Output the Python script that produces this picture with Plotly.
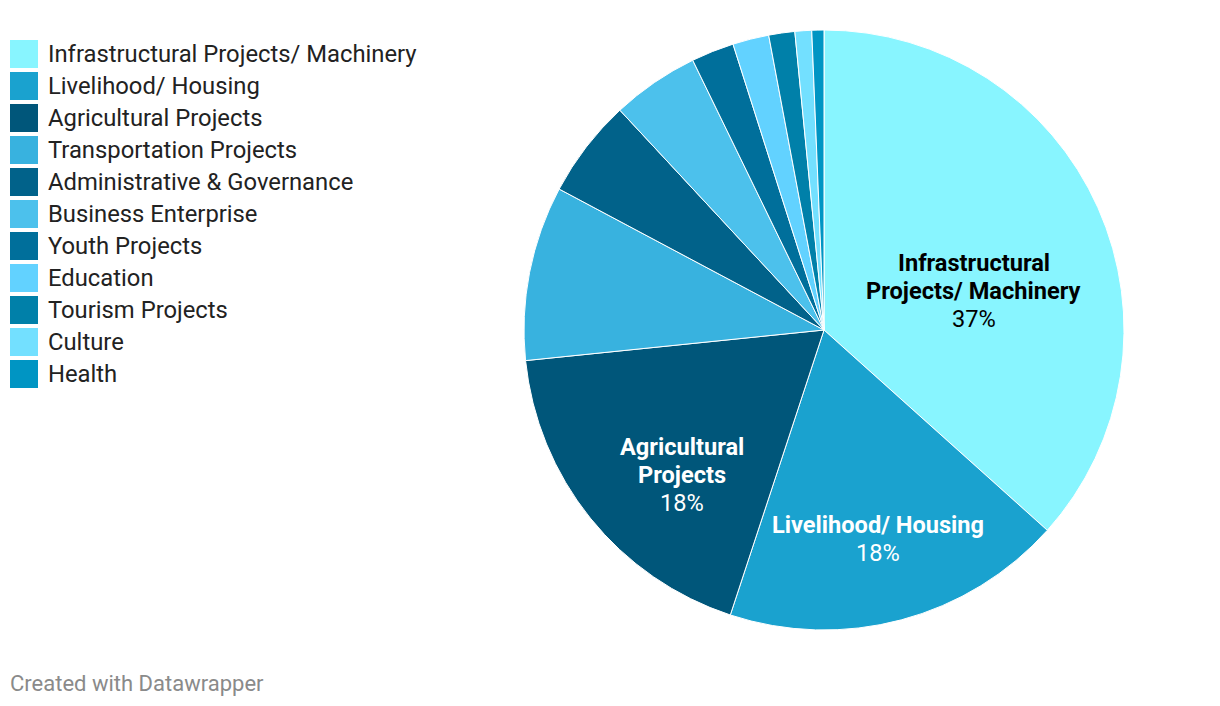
import math
import plotly.graph_objects as go

# page body has an 8px margin, so the figure is drawn 8px in from the window edge
OFF = 8
W, H = 1220 - 2 * OFF, 706 - 2 * OFF

categories = [
    "Infrastructural Projects/ Machinery", "Livelihood/ Housing", "Agricultural Projects",
    "Transportation Projects", "Administrative & Governance", "Business Enterprise",
    "Youth Projects", "Education", "Tourism Projects", "Culture", "Health",
]
shares = [36.6, 18.4, 18.3, 9.4, 5.3, 4.7, 2.3, 1.95, 1.4, 0.9, 0.65]
colors = [
    "#88f5ff", "#1aa2cf", "#00567a", "#38b2df", "#01628a", "#4cc1ec",
    "#006f9b", "#62d2ff", "#0080a9", "#73e0ff", "#0095c3",
]
# wrapped captions shown inside the three largest slices
slice_captions = {
    0: ["Infrastructural", "Projects/ Machinery"],
    1: ["Livelihood/ Housing"],
    2: ["Agricultural", "Projects"],
}
caption_colors = {0: "#000000", 1: "#ffffff", 2: "#ffffff"}


def px(x):
    return (x - OFF) / W


def py(y):
    return 1 - (y - OFF) / H


# pie placement: centre (824, 330), radius 300 px (window coords)
cx, cy, R = 824, 330, 300
fig = go.Figure(go.Pie(
    labels=categories,
    values=shares,
    sort=False,
    direction="clockwise",
    rotation=0,
    marker=dict(colors=colors, line=dict(color="white", width=1)),
    textinfo="none",
    hoverinfo="label+percent",
    domain=dict(x=[px(cx - R), px(cx + R)], y=[py(cy + R), py(cy - R)]),
    showlegend=False,
))

shapes, annotations = [], []

# slice labels: placed near each slice's centroid (Datawrapper style sits a bit lower)
total = sum(shares)
start = 0.0
for i, v in enumerate(shares):
    frac = v / total
    if i in slice_captions:
        alpha = frac * 2 * math.pi
        mid = (start + frac / 2) * 2 * math.pi
        dist = 4 * R * math.sin(alpha / 2) / (3 * alpha)
        lx = cx + dist * math.sin(mid) + 5
        ly = cy - dist * math.cos(mid) + 26
        lines = ["<b>%s</b>" % t for t in slice_captions[i]] + ["%d%%" % round(frac * 100)]
        n = len(lines)
        for k, t in enumerate(lines):
            annotations.append(dict(
                xref="paper", yref="paper", x=px(lx), y=py(ly + (k - (n - 1) / 2) * 28),
                xanchor="center", yanchor="middle", showarrow=False, text=t,
                font=dict(family="Roboto", size=23.6, color=caption_colors[i])))
    start += frac

# legend drawn as swatches + labels
for i, (name, col) in enumerate(zip(categories, colors)):
    top = 40 + 32 * i
    shapes.append(dict(type="rect", xref="paper", yref="paper",
                       x0=px(10), x1=px(38), y0=py(top + 28), y1=py(top),
                       fillcolor=col, line=dict(width=0)))
    annotations.append(dict(xref="paper", yref="paper", x=px(46), y=py(top + 14),
                            xanchor="left", yanchor="middle", showarrow=False,
                            text=name, font=dict(family="Roboto", size=23.8, color="#222222")))

annotations.append(dict(xref="paper", yref="paper", x=px(8), y=py(683),
                        xanchor="left", yanchor="middle", showarrow=False,
                        text="Created with Datawrapper",
                        font=dict(family="Roboto", size=22, color="#8a8a8a")))

fig.update_layout(
    width=W, height=H,
    margin=dict(l=0, r=0, t=0, b=0),
    paper_bgcolor="white",
    plot_bgcolor="white",
    shapes=shapes,
    annotations=annotations,
    font=dict(family="Roboto"),
)

fig.write_html("out.html")
